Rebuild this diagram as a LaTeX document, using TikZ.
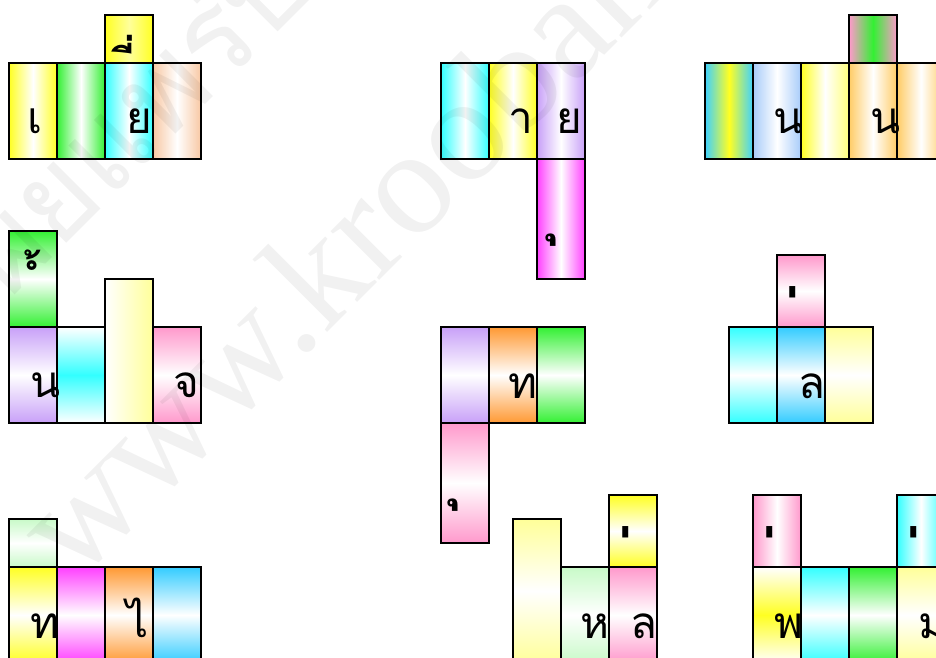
\documentclass[tikz,border=0pt]{standalone}
\usepackage{fontspec}
\newfontfamily\thai[Script=Thai]{Loma}
\setmainfont{Liberation Serif}
\begin{document}
\begin{tikzpicture}[x=1pt,y=-1pt,
  cell/.style={draw=black, line width=2.2pt, inner sep=0pt, outer sep=0pt, anchor=north west, minimum width=48pt},
  h96/.style={minimum height=96pt},
  h48/.style={minimum height=48pt},
  h72/.style={minimum height=72pt},
  h120/.style={minimum height=120pt},
  h144/.style={minimum height=144pt},
  hz/.style={left color=#1, right color=#1, middle color=white},
  vt/.style={top color=#1, bottom color=#1, middle color=white},
  thaitxt/.style={font=\thai\fontsize{44}{44}\selectfont, inner sep=0pt, anchor=base west},
  thaimark/.style={font=\thai\bfseries\fontsize{44}{44}\selectfont, inner sep=0pt, anchor=base west},
  tonemark/.style={thaimark, xscale=1.2, yscale=1.9},
  wm/.style={text=black, text opacity=0.055, inner sep=0pt, anchor=base west, rotate=45}
]
\definecolor{cyel}{HTML}{FFFF22}
\definecolor{cgrn}{HTML}{33F033}
\definecolor{ccyn}{HTML}{33FFFF}
\definecolor{cpch}{HTML}{F8C8A4}
\definecolor{clav}{HTML}{C8A0F8}
\definecolor{cmag}{HTML}{FF40FF}
\definecolor{clbl}{HTML}{A8CCFA}
\definecolor{clor}{HTML}{FFCC66}
\definecolor{cpnk}{HTML}{FF99CC}
\definecolor{corg}{HTML}{FF9933}
\definecolor{csky}{HTML}{33CCFF}
\definecolor{clgr}{HTML}{C8FAC8}
\definecolor{clyl}{HTML}{FFFF99}
\useasboundingbox (0,0) rectangle (936,657);
\clip (0,0) rectangle (936,657);
% group 1
\node[cell,h96,hz=cyel] (g1a) at (9,63) {};
\node[cell,h96,hz=cgrn] (g1b) at (57,63) {};
\node[cell,h96,hz=ccyn] (g1c) at (105,63) {};
\node[cell,h96,hz=cpch] (g1d) at (153,63) {};
\node[cell,h48,left color=cyel,right color=cyel,middle color=cyel!45] (g1e) at (105,15) {};
% group 2
\node[cell,h96,hz=ccyn] (g2a) at (441,63) {};
\node[cell,h96,hz=cyel] (g2b) at (489,63) {};
\node[cell,h96,hz=clav] (g2c) at (537,63) {};
\node[cell,h120,hz=cmag] (g2d) at (537,159) {};
% group 3
\node[cell,h96,left color=ccyn!80!blue!90,right color=ccyn!80!blue!90,middle color=cyel] (g3a) at (705,63) {};
\node[cell,h96,hz=clbl] (g3b) at (753,63) {};
\node[cell,h96,left color=cyel,right color=cyel!60,middle color=white] (g3c) at (801,63) {};
\node[cell,h96,hz=clor] (g3d) at (849,63) {};
\node[cell,h96,hz=clor] (g3e) at (897,63) {};
\node[cell,h48,left color=cpnk,right color=cpnk,middle color=cgrn] (g3f) at (849,15) {};
% group 4
\node[cell,h96,vt=cgrn] (g4a) at (9,231) {};
\node[cell,h96,vt=clav] (g4b) at (9,327) {};
\node[cell,h96,top color=white,bottom color=white,middle color=ccyn] (g4c) at (57,327) {};
\node[cell,h144,shading=axis,shading angle=60,left color=white,right color=clyl] (g4d) at (105,279) {};
\node[cell,h96,vt=cpnk] (g4e) at (153,327) {};
% group 5
\node[cell,h96,vt=clav] (g5a) at (441,327) {};
\node[cell,h96,vt=corg] (g5b) at (489,327) {};
\node[cell,h96,vt=cgrn] (g5c) at (537,327) {};
\node[cell,h120,vt=cpnk] (g5d) at (441,423) {};
% group 6
\node[cell,h96,vt=ccyn] (g6a) at (729,327) {};
\node[cell,h96,vt=csky] (g6b) at (777,327) {};
\node[cell,h96,vt=clyl] (g6c) at (825,327) {};
\node[cell,h72,vt=cpnk] (g6d) at (777,255) {};
% group 7
\node[cell,h96,vt=cyel] (g7a) at (9,567) {};
\node[cell,h96,vt=cmag] (g7b) at (57,567) {};
\node[cell,h96,vt=corg] (g7c) at (105,567) {};
\node[cell,h96,vt=csky] (g7d) at (153,567) {};
\node[cell,h48,vt=clgr] (g7e) at (9,519) {};
% group 8
\node[cell,h144,vt=clyl] (g8a) at (513,519) {};
\node[cell,h96,vt=clgr] (g8b) at (561,567) {};
\node[cell,h96,vt=cpnk] (g8c) at (609,567) {};
\node[cell,h72,vt=cyel] (g8d) at (609,495) {};
% group 9
\node[cell,h96,top color=white,bottom color=white,middle color=cyel] (g9a) at (753,567) {};
\node[cell,h96,vt=ccyn] (g9b) at (801,567) {};
\node[cell,h96,vt=cgrn] (g9c) at (849,567) {};
\node[cell,h96,vt=clyl] (g9d) at (897,567) {};
\node[cell,h72,hz=cpnk] (g9e) at (753,495) {};
\node[cell,h72,hz=ccyn] (g9f) at (897,495) {};
% texts
\node[thaitxt] (t1a) at (27,133) {เ};
\node[thaitxt] (t1b) at (126,133) {ย};
\node[thaimark] (t1c) at (135,80) {ี่};
\node[thaitxt] (t2a) at (508,133) {า};
\node[thaitxt] (t2b) at (556,133) {ย};
\node[thaimark,scale=1.3] (t2c) at (560,231) {ุ};
\node[thaitxt] (t3a) at (773,133) {น};
\node[thaitxt] (t3b) at (870,133) {น};
\node[thaimark] (t4a) at (38,296) {ํ้};
\node[thaitxt] (t4b) at (30,397) {น};
\node[thaitxt] (t4c) at (173,397) {จ};
\node[thaitxt] (t5a) at (508,398) {ท};
\node[thaimark,scale=1.3] (t5b) at (462,496) {ุ};
\node[tonemark] (t6a) at (799,372) {่};
\node[thaitxt] (t6b) at (798,398) {ล};
\node[thaitxt] (t7a) at (30,638) {ท};
\node[thaitxt] (t7b) at (126,637) {ไ};
\node[tonemark] (t8a) at (632,612) {่};
\node[thaitxt] (t8b) at (580,638) {ห};
\node[thaitxt] (t8c) at (630,638) {ล};
\node[tonemark] (t9a) at (776,612) {่};
\node[tonemark] (t9b) at (920,612) {่};
\node[thaitxt] (t9c) at (774,638) {พ};
\node[thaitxt] (t9d) at (918,638) {ม};
% watermark
\node[wm,font=\thai\fontsize{120}{120}\selectfont] (wm1) at (-20,330) {เผยแพร่บน};
\node[wm,font=\fontsize{150}{150}\selectfont] (wm2) at (75,585) {www.kroobannok.com};
\end{tikzpicture}
\end{document}
